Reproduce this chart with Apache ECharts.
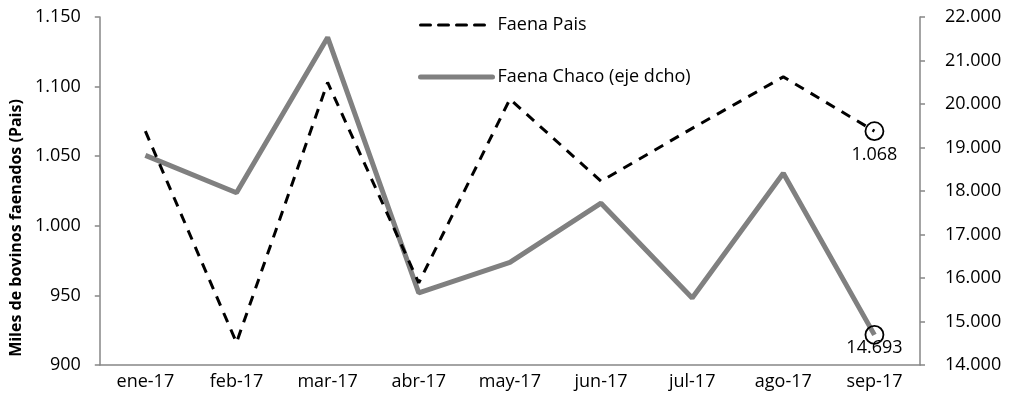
<!DOCTYPE html>
<html>
<head>
<meta charset="utf-8">
<script src="https://cdn.jsdelivr.net/npm/echarts@6/dist/echarts.min.js"></script>
<style>
  html, body { margin: 0; padding: 0; background: #fff; }
  #chart { width: 1019px; height: 402px; }
</style>
</head>
<body>
<div id="chart"></div>
<script>
  const meses = ['ene-17', 'feb-17', 'mar-17', 'abr-17', 'may-17', 'jun-17', 'jul-17', 'ago-17', 'sep-17'];
  // miles de cabezas, eje izquierdo
  const faenaPais = [1068, 916, 1103, 959, 1091, 1032, 1070, 1107, 1068];
  // cabezas, eje derecho
  const faenaChaco = [18820, 17960, 21530, 15660, 16360, 17720, 15540, 18410, 14693];

  const miles = (v) => String(v).replace(/\B(?=(\d{3})+(?!\d))/g, '.');
  const font = '"Open Sans", sans-serif';

  // solo el último punto lleva círculo y etiqueta
  const ultimo = (arr, dist) => arr.map((v, i) => {
    if (i < arr.length - 1) return v;
    return {
      value: v,
      symbol: 'circle',
      symbolSize: 18,
      itemStyle: { color: 'rgba(0,0,0,0)', borderColor: '#000', borderWidth: 1.8 },
      label: {
        show: true,
        position: 'bottom',
        distance: dist,
        formatter: (p) => miles(p.value),
        color: '#000',
        fontSize: 18,
        fontFamily: font,
      },
    };
  });

  const myChart = echarts.init(document.getElementById('chart'));
  myChart.setOption({
    animation: false,
    textStyle: { fontFamily: font },
    grid: { left: 91, right: 99, top: 17, bottom: 37 },
    legend: {
      orient: 'vertical',
      left: 413,
      top: 11,
      itemWidth: 72,
      itemHeight: 14,
      itemGap: 34,
      itemStyle: { opacity: 0 },
      lineStyle: { width: 'inherit', cap: 'round' },
      textStyle: { color: '#000', fontSize: 18, fontFamily: font },
      data: ['Faena Pais', 'Faena Chaco (eje dcho)'],
    },
    xAxis: {
      type: 'category',
      data: meses,
      boundaryGap: true,
      axisLine: { lineStyle: { color: '#868686', width: 1.5 } },
      axisTick: { length: 6, lineStyle: { color: '#868686', width: 1.5 } },
      axisLabel: { color: '#000', fontSize: 18, margin: 8 },
    },
    yAxis: [
      {
        type: 'value',
        min: 900,
        max: 1150,
        interval: 50,
        name: 'Miles de bovinos faenados (Pais)',
        nameLocation: 'middle',
        nameGap: 68,
        nameTextStyle: { color: '#000', fontSize: 16, fontWeight: 'bold', padding: [0, 74, 0, 0] },
        splitLine: { show: false },
        axisLine: { show: true, lineStyle: { color: '#868686', width: 1.5 } },
        axisTick: { show: true, length: 5, lineStyle: { color: '#868686', width: 1.5 } },
        axisLabel: { color: '#000', fontSize: 18, margin: 19, formatter: miles },
      },
      {
        type: 'value',
        min: 14000,
        max: 22000,
        interval: 1000,
        position: 'right',
        splitLine: { show: false },
        axisLine: { show: true, lineStyle: { color: '#868686', width: 1.5 } },
        axisTick: { show: true, length: 5, lineStyle: { color: '#868686', width: 1.5 } },
        axisLabel: { color: '#000', fontSize: 18, margin: 25, formatter: miles },
      },
    ],
    series: [
      {
        name: 'Faena Pais',
        type: 'line',
        yAxisIndex: 0,
        symbol: 'none',
        z: 3,
        lineStyle: { color: '#000', width: 3, type: [10, 8] },
        itemStyle: { color: '#000' },
        data: ultimo(faenaPais, 5),
      },
      {
        name: 'Faena Chaco (eje dcho)',
        type: 'line',
        yAxisIndex: 1,
        symbol: 'none',
        z: 2,
        lineStyle: { color: '#808080', width: 5 },
        itemStyle: { color: '#808080' },
        data: ultimo(faenaChaco, -6),
      },
    ],
  });
</script>
</body>
</html>
